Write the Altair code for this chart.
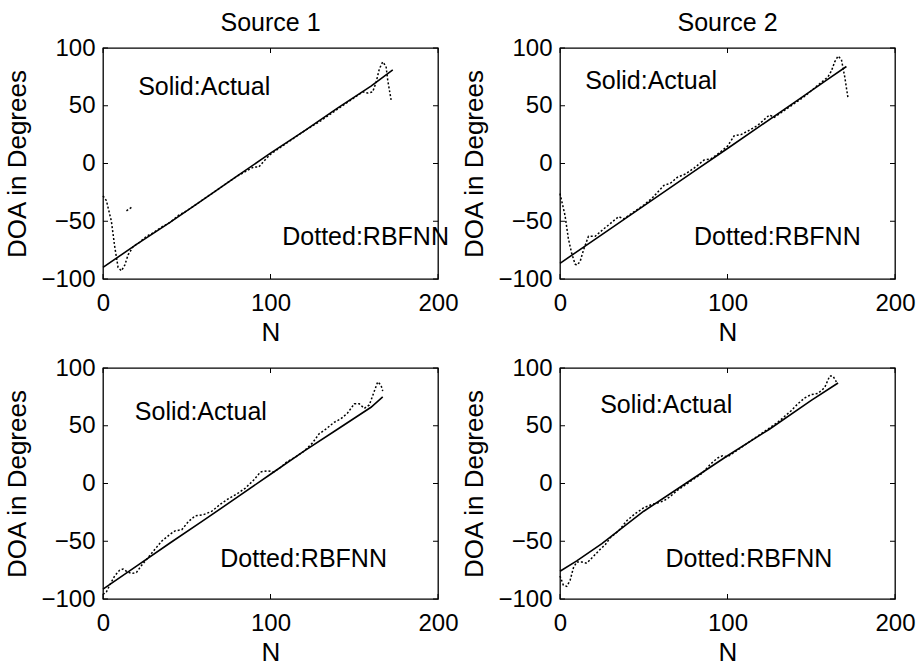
import altair as alt
import pandas as pd

# ---------------- data ----------------
N_TICKS = [0, 100, 200]
DOA_TICKS = [-100, -50, 0, 50, 100]

# Panel 1 (Source 1, top)
p1_act_n = [0, 20, 40, 60, 80, 100, 120, 140, 160, 173]
p1_act_v = [-90, -70, -51, -31, -11, 9, 28, 48, 67, 81]
p1_rbf_n = [0, 2, 5, 7, 9, 11, 13, 15, 18, 22, 26, 30, 35, 40, 45, 50, 55, 60, 65, 70, 75,
            80, 85, 90, 93, 96, 100, 105, 110, 120, 130, 140, 150, 155, 158, 161, 163, 165,
            167, 169, 170, 172]
p1_rbf_v = [-28, -32, -50, -72, -90, -93, -88, -79, -72, -68, -63, -60, -55, -51, -45, -41, -36,
            -31, -26, -21, -16, -11, -7, -3, -3, 2, 8, 13, 18, 28, 37, 47, 57, 62, 61, 62, 70,
            82, 88, 84, 72, 55]
p1_frag_n = [14, 17]
p1_frag_v = [-41, -38]

# Panel 2 (Source 2, top)
p2_act_n = [0, 20, 40, 60, 80, 100, 120, 140, 160, 171]
p2_act_v = [-86.4, -66.5, -46.6, -26.7, -6.8, 13, 33, 53, 73, 84]
p2_rbf_n = [0, 3, 5, 7, 9, 10, 12, 14, 17, 21, 25, 30, 35, 38, 42, 50, 55, 62, 66, 70, 75, 80,
            86, 90, 95, 100, 104, 108, 112, 118, 125, 128, 135, 145, 155, 160, 162, 164, 166,
            168, 170, 172]
p2_rbf_v = [-26, -45, -65, -78, -87, -88, -85, -75, -63, -63, -58, -52, -46, -48, -44, -36, -30,
            -19, -17, -12, -9, -4, 3, 4, 9, 15, 24, 25, 28, 33, 42, 40, 47, 57, 69, 75, 80, 88,
            93, 90, 75, 56]

# Panel 3 (bottom left)
p3_act_n = [0, 20, 40, 60, 80, 100, 120, 140, 160, 167]
p3_act_v = [-91.5, -71.5, -51.5, -32, -12, 8, 28, 47, 66, 75]
p3_rbf_n = [0, 2, 4, 7, 10, 12, 14, 17, 20, 23, 27, 31, 35, 40, 43, 47, 51, 55, 60, 65, 70, 75,
            80, 85, 90, 94, 98, 102, 106, 110, 115, 120, 125, 129, 133, 138, 142, 146, 150,
            153, 156, 159, 162, 164, 166, 167]
p3_rbf_v = [-96, -94, -88, -80, -75, -74, -76, -78, -77, -71, -64, -57, -50, -44, -41, -40, -33,
            -28, -27, -24, -18, -13, -9, -4, 3, 10, 11, 10, 14, 19, 23, 28, 35, 43, 47, 53, 56,
            61, 69, 69, 65, 68, 80, 88, 85, 80]

# Panel 4 (bottom right)
p4_act_n = [0, 10, 25, 50, 75, 100, 125, 150, 166]
p4_act_v = [-76, -67, -52, -24, 0, 24, 47, 72, 87]
p4_rbf_n = [0, 2, 4, 6, 8, 10, 13, 16, 20, 24, 27, 30, 35, 40, 45, 50, 55, 58, 62, 66, 70, 75,
            80, 85, 90, 94, 97, 100, 105, 110, 120, 130, 138, 142, 146, 150, 154, 158, 161,
            163, 165]
p4_rbf_v = [-80, -88, -89, -84, -73, -68, -68, -69, -63, -57, -53, -47, -41, -32, -26, -21, -18,
            -17, -15, -11, -6, -1, 4, 9, 17, 22, 24, 23, 28, 33, 43, 53, 63, 69, 74, 77, 78, 83,
            93, 93, 88]

NOTE_TEXT = ["Solid:Actual", "Dotted:RBFNN"]
p1_note_n, p1_note_v = [21, 107], [66, -64]
p2_note_n, p2_note_v = [15, 80], [71, -64]
p3_note_n, p3_note_v = [19, 70], [62, -65]
p4_note_n, p4_note_v = [24, 63], [68, -65]

TITLES = ["Source 1", "Source 2"]

# ---------------- styling ----------------
FONT = "Liberation Sans"
W, H = 335, 231
TICK = 5

xs = alt.Scale(domain=[0, 200], nice=False, zero=False)
ys = alt.Scale(domain=[-100, 100], nice=False, zero=False)
xa = alt.Axis(values=N_TICKS, title="N", ticks=False, domain=False, grid=False,
              labelFlush=False, labelPadding=12, titlePadding=4, format="d")
ya = alt.Axis(values=DOA_TICKS, title="DOA in Degrees", ticks=False, domain=False,
              grid=False, labelPadding=8, titlePadding=10, format="d")


def X():
    return alt.X("N:Q", scale=xs, axis=xa)


def Y():
    return alt.Y("DOA:Q", scale=ys, axis=ya)


def panel(act_n, act_v, rbf_n, rbf_v, note_n, note_v, title=None, frag=None):
    act = pd.DataFrame({"N": act_n, "DOA": act_v})
    rbf_parts = [pd.DataFrame({"N": rbf_n, "DOA": rbf_v, "seg": "main"})]
    if frag is not None:
        rbf_parts.append(pd.DataFrame({"N": frag[0], "DOA": frag[1], "seg": "frag"}))
    rbf = pd.concat(rbf_parts, ignore_index=True)
    notes = pd.DataFrame({"N": note_n, "DOA": note_v, "label": NOTE_TEXT})
    xt = pd.DataFrame({"N": N_TICKS})
    yt = pd.DataFrame({"DOA": DOA_TICKS})

    solid = alt.Chart(act).mark_line(color="black", strokeWidth=1.6).encode(x=X(), y=Y())
    dotted = alt.Chart(rbf).mark_line(color="black", strokeWidth=1.5,
                                      strokeDash=[2, 2]).encode(
        x=X(), y=Y(), detail="seg:N")
    text = alt.Chart(notes).mark_text(align="left", baseline="middle", font=FONT,
                                      fontSize=25, color="black").encode(
        x=X(), y=Y(), text="label:N")
    tb = alt.Chart(xt).mark_rule(color="black", strokeWidth=1).encode(
        x=X(), y=alt.value(H - TICK), y2=alt.value(H))
    tt = alt.Chart(xt).mark_rule(color="black", strokeWidth=1).encode(
        x=X(), y=alt.value(0), y2=alt.value(TICK))
    tl = alt.Chart(yt).mark_rule(color="black", strokeWidth=1).encode(
        y=Y(), x=alt.value(0), x2=alt.value(TICK))
    tr = alt.Chart(yt).mark_rule(color="black", strokeWidth=1).encode(
        y=Y(), x=alt.value(W - TICK), x2=alt.value(W))

    ch = alt.layer(tb, tt, tl, tr, solid, dotted, text)
    props = dict(width=W, height=H)
    if title is not None:
        props["title"] = alt.TitleParams(title, font=FONT, fontSize=25, fontWeight="normal",
                                         color="black", offset=0, anchor="middle",
                                         frame="group")
    return ch.properties(**props)


c1 = panel(p1_act_n, p1_act_v, p1_rbf_n, p1_rbf_v, p1_note_n, p1_note_v,
           title=TITLES[0], frag=(p1_frag_n, p1_frag_v))
c2 = panel(p2_act_n, p2_act_v, p2_rbf_n, p2_rbf_v, p2_note_n, p2_note_v, title=TITLES[1])
c3 = panel(p3_act_n, p3_act_v, p3_rbf_n, p3_rbf_v, p3_note_n, p3_note_v)
c4 = panel(p4_act_n, p4_act_v, p4_rbf_n, p4_rbf_v, p4_note_n, p4_note_v)

chart = alt.vconcat(
    alt.hconcat(c1, c2, spacing=2),
    alt.hconcat(c3, c4, spacing=2),
    spacing=9,
).properties(
    padding={"left": 4, "top": 10, "right": 0, "bottom": 0},
    background="white",
).configure_view(
    stroke="black", strokeWidth=1.3
).configure_axis(
    labelFont=FONT, labelFontSize=24, labelColor="black",
    titleFont=FONT, titleFontSize=26, titleFontWeight="normal", titleColor="black",
)

chart.save("out.html", embed_options={"renderer": "svg", "actions": False})
